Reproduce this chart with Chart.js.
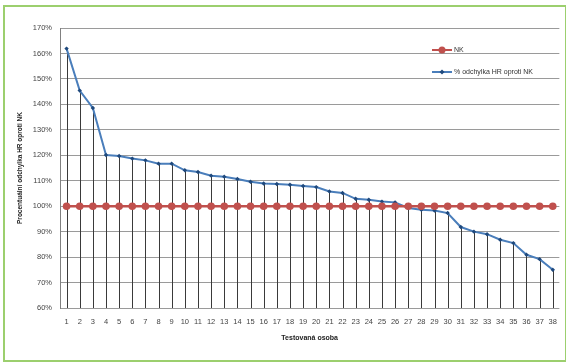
<!DOCTYPE html>
<html>
<head>
<meta charset="utf-8">
<script src="https://cdn.jsdelivr.net/npm/chart.js@4.4.1/dist/chart.umd.min.js"></script>
<style>
  html, body { margin: 0; padding: 0; background: #fff; }
  #wrap { position: relative; width: 566px; height: 364px; }
  #frame { position: absolute; left: 3px; top: 5px; width: 560px; height: 353px;
           border: 2px solid #9ccf6e; box-sizing: content-box; }
  canvas { position: absolute; left: 0; top: 0; }
</style>
</head>
<body>
<div id="wrap">
  <canvas id="chart" width="566" height="364"></canvas>
  <div id="frame"></div>
</div>
<script>
const categories = ['1','2','3','4','5','6','7','8','9','10','11','12','13','14','15','16','17','18','19',
                    '20','21','22','23','24','25','26','27','28','29','30','31','32','33','34','35','36','37','38'];
const nkValues = [100,100,100,100,100,100,100,100,100,100,100,100,100,100,100,100,100,100,100,
                  100,100,100,100,100,100,100,100,100,100,100,100,100,100,100,100,100,100,100];
const hrValues = [161.9,145.4,138.6,120.1,119.7,118.7,118.0,116.7,116.7,114.1,113.4,112.0,111.6,110.7,109.6,108.9,108.7,108.4,107.9,
                  107.5,105.8,105.2,102.9,102.5,101.8,101.5,99.3,98.6,98.3,97.3,91.8,90.0,89.0,86.8,85.5,80.9,79.2,75.0];
const yMin = 60, yMax = 170, yStep = 10;
const seriesNames = ['NK', '% odchylka HR oproti NK'];

const FONT = 'Liberation Sans, Arial, sans-serif';

// svislé spojnice od bodů HR dolů k ose
const dropLines = {
  id: 'dropLines',
  beforeDatasetsDraw(chart) {
    const ctx = chart.ctx;
    const meta = chart.getDatasetMeta(1);
    const bottom = chart.chartArea.bottom;
    ctx.save();
    ctx.strokeStyle = '#3a3a3a';
    ctx.lineWidth = 1;
    meta.data.forEach(p => {
      const x = Math.round(p.x) + 0.5;
      ctx.beginPath();
      ctx.moveTo(x, p.y);
      ctx.lineTo(x, bottom);
      ctx.stroke();
    });
    ctx.restore();
  }
};

// legenda uvnitř grafu vpravo nahoře
const innerLegend = {
  id: 'innerLegend',
  afterDraw(chart) {
    const ctx = chart.ctx;
    const rows = [
      { y: 50, color: '#c0504d', marker: 'circle' },
      { y: 72, color: '#4a7ebb', marker: 'diamond' }
    ];
    ctx.save();
    rows.forEach((r, i) => {
      ctx.strokeStyle = r.color;
      ctx.lineWidth = 2;
      ctx.beginPath();
      ctx.moveTo(432, r.y);
      ctx.lineTo(452, r.y);
      ctx.stroke();
      if (r.marker === 'circle') {
        ctx.fillStyle = '#c0504d';
        ctx.beginPath();
        ctx.arc(442, r.y, 3.5, 0, Math.PI * 2);
        ctx.fill();
      } else {
        ctx.fillStyle = '#1f497d';
        ctx.beginPath();
        ctx.moveTo(442, r.y - 2.5);
        ctx.lineTo(444.5, r.y);
        ctx.lineTo(442, r.y + 2.5);
        ctx.lineTo(439.5, r.y);
        ctx.closePath();
        ctx.fill();
      }
      ctx.fillStyle = '#333';
      ctx.font = '7px ' + FONT;
      ctx.textBaseline = 'middle';
      ctx.textAlign = 'left';
      ctx.fillText(seriesNames[i], 454, r.y);
    });
    ctx.restore();
  }
};

new Chart(document.getElementById('chart'), {
  type: 'line',
  data: {
    labels: categories,
    datasets: [
      {
        label: seriesNames[0],
        data: nkValues,
        borderColor: '#c0504d',
        backgroundColor: '#c0504d',
        borderWidth: 2.5,
        pointRadius: 3.8,
        pointBackgroundColor: '#c0504d',
        pointBorderWidth: 0
      },
      {
        label: seriesNames[1],
        data: hrValues,
        borderColor: '#4a7ebb',
        backgroundColor: '#1f497d',
        borderWidth: 2,
        pointStyle: 'rectRot',
        pointRadius: 2.2,
        pointBackgroundColor: '#1f497d',
        pointBorderWidth: 0
      }
    ]
  },
  options: {
    responsive: false,
    animation: false,
    layout: { padding: { left: 12, right: 3, top: 28, bottom: 16 } },
    plugins: {
      legend: { display: false },
      tooltip: { enabled: false }
    },
    scales: {
      x: {
        offset: true,
        grid: { display: false, drawTicks: false },
        border: { display: false },
        ticks: { color: '#444', font: { family: FONT, size: 7.5 }, padding: 9, maxRotation: 0, autoSkip: false },
        title: { display: true, text: 'Testovaná osoba', color: '#222',
                 font: { family: FONT, size: 7, weight: 'bold' }, padding: { top: 0, bottom: 6 } },
        afterFit(s) { s.height = 40; }
      },
      y: {
        min: yMin,
        max: yMax,
        ticks: { stepSize: yStep, color: '#444', font: { family: FONT, size: 7.5 }, padding: 8,
                 callback: v => v + '%' },
        grid: { color: '#9a9a9a', lineWidth: 1, drawTicks: false },
        border: { color: '#808080' },
        title: { display: true, text: 'Procentuální odchylka HR oproti NK', color: '#222',
                 font: { family: FONT, size: 6.5, weight: 'bold' }, padding: 4 },
        afterFit(s) { s.width = 48; }
      }
    }
  },
  plugins: [dropLines, innerLegend]
});
</script>
</body>
</html>
